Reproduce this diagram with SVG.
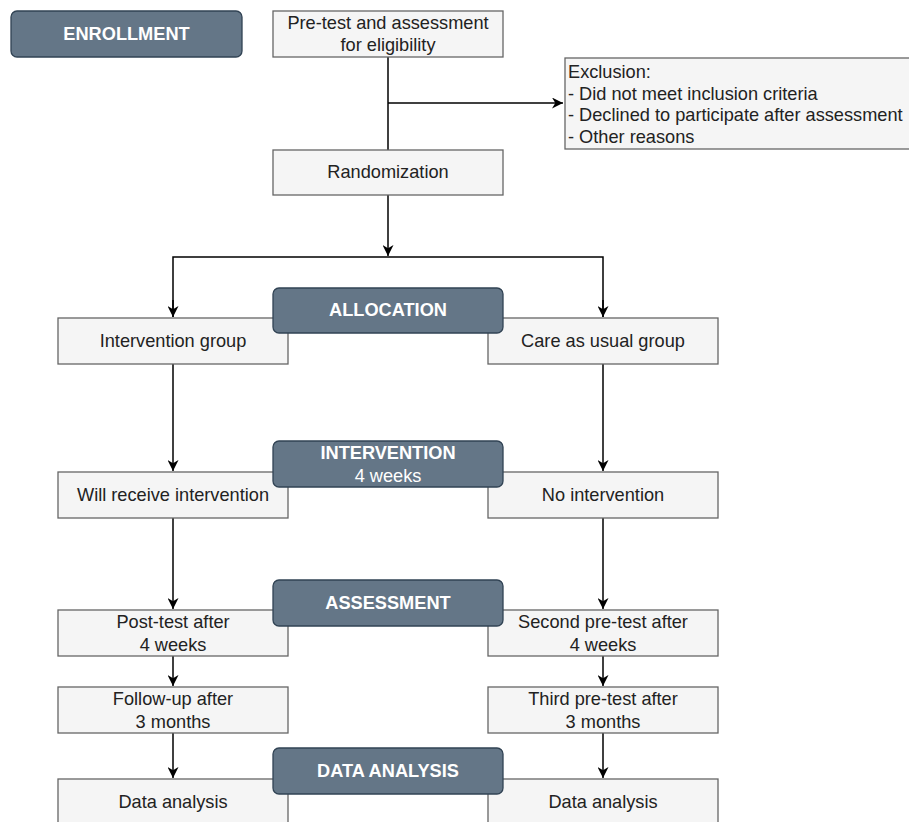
<svg xmlns="http://www.w3.org/2000/svg" width="909" height="822" viewBox="0 0 909 822">
<defs>
<marker id="ah" viewBox="0 0 10 10" refX="10" refY="5" markerWidth="11" markerHeight="11" markerUnits="userSpaceOnUse" orient="auto">
<path d="M0,0 L10,5 L0,10 L3,5 Z" fill="#000"/>
</marker>
<style>
.hdr{fill:#647687;stroke:#314354;stroke-width:1.3}
.box{fill:#f5f5f5;stroke:#666;stroke-width:1.3}
.ht{font-family:"Liberation Sans",Arial,sans-serif;font-size:18.2px;font-weight:bold;fill:#fff;text-anchor:middle}
.hs{font-family:"Liberation Sans",Arial,sans-serif;font-size:18.2px;fill:#fff;text-anchor:middle}
.t{font-family:"Liberation Sans",Arial,sans-serif;font-size:18.2px;fill:#222;text-anchor:middle}
.tl{font-family:"Liberation Sans",Arial,sans-serif;font-size:18.2px;fill:#222}
.c{fill:none;stroke:#000;stroke-width:1.5}
</style>
</defs>
<rect width="909" height="822" fill="#fff"/>
<g id="connectors">
<path class="c" d="M388,57 V150"/>
<path class="c" d="M388,103 H563" marker-end="url(#ah)"/>
<path class="c" d="M388,195 V256" marker-end="url(#ah)"/>
<path class="c" d="M173,317 V257 H603 V317" />
<path class="c" d="M173,300 V317" marker-end="url(#ah)"/>
<path class="c" d="M603,300 V317" marker-end="url(#ah)"/>
<path class="c" d="M173,364 V471" marker-end="url(#ah)"/>
<path class="c" d="M603,364 V471" marker-end="url(#ah)"/>
<path class="c" d="M173,518 V609" marker-end="url(#ah)"/>
<path class="c" d="M603,518 V609" marker-end="url(#ah)"/>
<path class="c" d="M173,656 V686" marker-end="url(#ah)"/>
<path class="c" d="M603,656 V686" marker-end="url(#ah)"/>
<path class="c" d="M173,733 V778" marker-end="url(#ah)"/>
<path class="c" d="M603,733 V778" marker-end="url(#ah)"/>
</g>
<g id="enrollment"><rect class="hdr" x="11" y="11" width="231" height="46" rx="6"/><text class="ht" x="126.5" y="40">ENROLLMENT</text></g>
<g id="pretest"><rect class="box" x="273" y="11" width="230" height="46"/><text class="t" x="388" y="29">Pre-test and assessment</text><text class="t" x="388" y="51">for eligibility</text></g>
<g id="exclusion"><rect class="box" x="565" y="58" width="350" height="91"/>
<text class="tl" x="568" y="78">Exclusion:</text>
<text class="tl" x="568" y="100">- Did not meet inclusion criteria</text>
<text class="tl" x="568" y="121">- Declined to participate after assessment</text>
<text class="tl" x="568" y="143">- Other reasons</text></g>
<g id="randomization"><rect class="box" x="273" y="150" width="230" height="45"/><text class="t" x="388" y="178">Randomization</text></g>
<g id="intervention-group"><rect class="box" x="58" y="318" width="230" height="46"/><text class="t" x="173" y="347">Intervention group</text></g>
<g id="care-group"><rect class="box" x="488" y="318" width="230" height="46"/><text class="t" x="603" y="347">Care as usual group</text></g>
<g id="allocation"><rect class="hdr" x="273" y="288" width="230" height="45" rx="6"/><text class="ht" x="388" y="316">ALLOCATION</text></g>
<g id="will-receive"><rect class="box" x="58" y="472" width="230" height="46"/><text class="t" x="173" y="501">Will receive intervention</text></g>
<g id="no-intervention"><rect class="box" x="488" y="472" width="230" height="46"/><text class="t" x="603" y="501">No intervention</text></g>
<g id="intervention"><rect class="hdr" x="273" y="441" width="230" height="46" rx="6"/><text class="ht" x="388" y="459">INTERVENTION</text><text class="hs" x="388" y="482">4 weeks</text></g>
<g id="post-test"><rect class="box" x="58" y="610" width="230" height="46"/><text class="t" x="173" y="628">Post-test after</text><text class="t" x="173" y="651">4 weeks</text></g>
<g id="second-pretest"><rect class="box" x="488" y="610" width="230" height="46"/><text class="t" x="603" y="628">Second pre-test after</text><text class="t" x="603" y="651">4 weeks</text></g>
<g id="assessment"><rect class="hdr" x="273" y="580" width="230" height="46" rx="6"/><text class="ht" x="388" y="609">ASSESSMENT</text></g>
<g id="follow-up"><rect class="box" x="58" y="687" width="230" height="46"/><text class="t" x="173" y="705">Follow-up after</text><text class="t" x="173" y="728">3 months</text></g>
<g id="third-pretest"><rect class="box" x="488" y="687" width="230" height="46"/><text class="t" x="603" y="705">Third pre-test after</text><text class="t" x="603" y="728">3 months</text></g>
<g id="data-left"><rect class="box" x="58" y="779" width="230" height="50"/><text class="t" x="173" y="808">Data analysis</text></g>
<g id="data-right"><rect class="box" x="488" y="779" width="230" height="50"/><text class="t" x="603" y="808">Data analysis</text></g>
<g id="data-analysis"><rect class="hdr" x="273" y="748" width="230" height="46" rx="6"/><text class="ht" x="388" y="777">DATA ANALYSIS</text></g>
</svg>
